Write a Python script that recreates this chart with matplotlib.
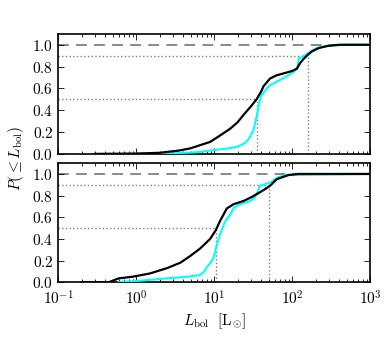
"""
Cumulative distributions of L_bol, two samples (black / cyan), two panels.
"""
import matplotlib
matplotlib.use("Agg")
import matplotlib.pyplot as plt
from matplotlib.ticker import MultipleLocator

plt.rcParams["mathtext.fontset"] = "cm"
plt.rcParams["font.family"] = "serif"
plt.rcParams["font.serif"] = ["cmr10", "DejaVu Serif"]
plt.rcParams["axes.formatter.use_mathtext"] = True

# top panel
top_black_L = [0.3, 1.0, 2.0, 3.5, 4.9, 6.0, 8.9, 12, 16, 20, 24, 30, 35, 40,
               43, 52, 63, 80, 100, 115, 126, 140, 160, 180, 220, 290, 400, 1000]
top_black_P = [0.0, 0.003, 0.01, 0.03, 0.05, 0.07, 0.11, 0.17, 0.23, 0.29, 0.36,
               0.44, 0.50, 0.57, 0.62, 0.69, 0.72, 0.74, 0.76, 0.78, 0.83, 0.87,
               0.91, 0.94, 0.97, 0.99, 1.0, 1.0]
top_cyan_L = [1.0, 3, 6, 10, 15, 20, 25, 28, 30, 32, 35, 38, 40, 45, 52, 63, 85,
              104, 118, 122, 147, 170, 205, 280, 500, 1000]
top_cyan_P = [0.0, 0.005, 0.015, 0.035, 0.05, 0.065, 0.10, 0.14, 0.18, 0.22, 0.34,
              0.47, 0.53, 0.58, 0.63, 0.66, 0.71, 0.75, 0.80, 0.875, 0.905, 0.935,
              0.97, 0.99, 1.0, 1.0]
top_median = 35.5
top_p90 = 160

# bottom panel
bot_black_L = [0.2, 0.45, 0.55, 0.6, 0.9, 1.5, 2.5, 3.7, 4.9, 6.6, 8.9, 10.5, 12,
               13.1, 14.5, 17.7, 23.8, 30, 38.6, 45, 52, 63, 75, 90, 120, 1000]
bot_black_P = [0.0, 0.0, 0.025, 0.035, 0.05, 0.08, 0.13, 0.18, 0.24, 0.31, 0.40,
               0.48, 0.57, 0.62, 0.68, 0.72, 0.75, 0.785, 0.83, 0.86, 0.89, 0.95,
               0.97, 0.99, 1.0, 1.0]
bot_cyan_L = [0.6, 1.0, 2.5, 4.5, 6.6, 7.5, 8.1, 9.0, 9.9, 10.8, 11.9, 13.8, 16,
              18, 21.6, 29, 33, 36, 38.6, 45, 52, 60, 66, 85, 1000]
bot_cyan_P = [0.0, 0.01, 0.035, 0.05, 0.065, 0.10, 0.14, 0.18, 0.23, 0.34, 0.44,
              0.56, 0.62, 0.69, 0.72, 0.75, 0.78, 0.83, 0.89, 0.905, 0.92, 0.95,
              0.97, 0.99, 1.0]
bot_median = 10.5
bot_p90 = 50.7

fig = plt.figure(figsize=(3.9, 3.42), dpi=100)
ax1 = fig.add_axes([0.149, 0.550, 0.800, 0.351])
ax2 = fig.add_axes([0.149, 0.175, 0.800, 0.348])

panels = [
    (ax1, top_black_L, top_black_P, top_cyan_L, top_cyan_P, top_median, top_p90),
    (ax2, bot_black_L, bot_black_P, bot_cyan_L, bot_cyan_P, bot_median, bot_p90),
]

for ax, bl, bp, cl, cp, med, p90 in panels:
    ax.set_xscale("log")
    ax.set_xlim(0.1, 1000)
    ax.set_ylim(0, 1.1)
    ax.axhline(1.0, color="0.5", ls="--", lw=1.3, dashes=(6, 4), zorder=1)
    ax.plot([0.1, med], [0.5, 0.5], color="0.5", ls=":", lw=1.0)
    ax.plot([0.1, p90], [0.9, 0.9], color="0.5", ls=":", lw=1.0)
    ax.plot([med, med], [0, 0.5], color="0.5", ls=":", lw=1.0)
    ax.plot([p90, p90], [0, 0.9], color="0.5", ls=":", lw=1.0)
    ax.plot(cl, cp, color="cyan", lw=1.5, zorder=3)
    ax.plot(bl, bp, color="black", lw=1.6, zorder=4)
    ax.yaxis.set_major_locator(MultipleLocator(0.2))
    ax.yaxis.set_major_formatter(plt.FuncFormatter(lambda v, p: f"${v:.1f}$"))
    ax.tick_params(which="both", direction="in", top=True, right=True,
                   labelsize=11)
    ax.tick_params(which="major", length=4, width=0.6)
    ax.tick_params(which="minor", length=2, width=0.6)
    for s in ax.spines.values():
        s.set_linewidth(1.2)

ax1.tick_params(labelbottom=False)
ax2.tick_params(axis="x", which="major", pad=5)
ax2.set_xlabel(r"$L_{\rm bol}\ \ [{\rm L}_{\odot}]$", fontsize=11, labelpad=3)
fig.text(0.04, 0.538, r"$P(\leq L_{\rm bol})$", rotation=90, fontsize=11,
         ha="center", va="center")

fig.savefig("out.png", dpi=100)
